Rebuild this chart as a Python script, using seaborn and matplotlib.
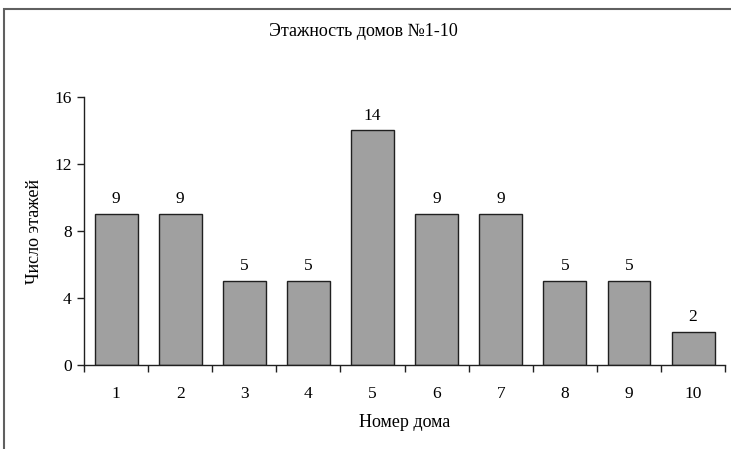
import pandas as pd
import seaborn as sns
import matplotlib.pyplot as plt
from matplotlib.patches import Rectangle

# данные
houses = ['1', '2', '3', '4', '5', '6', '7', '8', '9', '10']
floors = [9, 9, 5, 5, 14, 9, 9, 5, 5, 2]

data = pd.DataFrame({'house': houses, 'floors': floors})

sns.set_style('white')
plt.rcParams['font.family'] = ['Liberation Serif', 'DejaVu Serif']
plt.rcParams['font.size'] = 12.5
plt.rcParams['text.color'] = 'black'
plt.rcParams['axes.labelcolor'] = 'black'
plt.rcParams['xtick.color'] = 'black'
plt.rcParams['ytick.color'] = 'black'

fig = plt.figure(figsize=(7.31, 4.49), dpi=100)
ax = fig.add_axes([0.115, 0.187, 0.877, 0.597])

sns.barplot(data=data, x='house', y='floors', color='#a0a0a0', saturation=1,
            edgecolor='#202020', linewidth=1, width=0.67, ax=ax)

# подписи над столбцами
for c in ax.containers:
    ax.bar_label(c, padding=5, fontsize=12.5)

ax.set_ylim(0, 16)
ax.set_yticks([0, 4, 8, 12, 16])
ax.set_xlim(-0.5, 9.5)

# засечки между категориями на оси X
ax.set_xticks([i - 0.5 for i in range(11)], minor=True)
ax.tick_params(axis='x', which='major', length=0, pad=15, labelsize=12.5)
ax.tick_params(axis='x', which='minor', length=5, width=1, color='#202020', direction='out', bottom=True)
ax.tick_params(axis='y', length=5, width=1, color='#202020', direction='out', left=True, pad=4, labelsize=12.5)

for s in ['top', 'right']:
    ax.spines[s].set_visible(False)
for s in ['left', 'bottom']:
    ax.spines[s].set_color('#202020')
    ax.spines[s].set_linewidth(1)

ax.set_xlabel('Номер дома', labelpad=9, fontsize=13)
ax.set_ylabel('Число этажей', labelpad=8, fontsize=13)
fig.text(0.497, 0.929, 'Этажность домов №1-10', ha='center', va='center', fontsize=13)

# рамка вокруг диаграммы
fig.patches.append(Rectangle((0.006, -0.1), 1.2, 1.08, transform=fig.transFigure,
                             fill=False, edgecolor='#606060', linewidth=1.5))

fig.savefig('out.png', dpi=100)
